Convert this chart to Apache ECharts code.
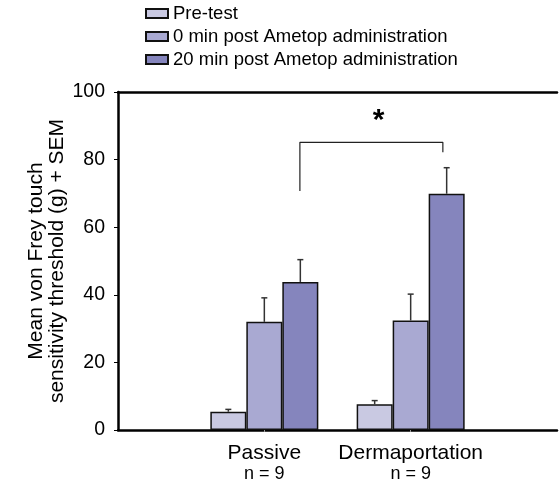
<!DOCTYPE html>
<html>
<head>
<meta charset="utf-8">
<script src="https://cdn.jsdelivr.net/npm/echarts@6/dist/echarts.min.js"></script>
<style>html,body{margin:0;padding:0;background:#fff}#c{width:560px;height:487px}</style>
</head>
<body>
<div id="c"></div>
<script>
// ---- data ----
var categories = ['', 'Passive', 'Dermaportation', ''];
var groupSizes = ['', 'n = 9', 'n = 9', ''];
var seriesNames = ['Pre-test', '0 min post Ametop administration', '20 min post Ametop administration'];
var preTest = [null, 5.4, 7.6, null];
var min0 = [null, 32.0, 32.4, null];
var min20 = [null, 43.8, 69.9, null];
var preTestErr = [null, 6.1, 8.7, null];
var min0Err = [null, 39.1, 40.2, null];
var min20Err = [null, 50.4, 77.6, null];
var yTicks = [0, 20, 40, 60, 80, 100];
// significance bracket (data space: category index, value)
var bracketX = [1.243, 1.243, 2.22, 2.22];
var bracketY = [70.7, 85.1, 85.1, 82.2];
var starPos = [1.78, 91.5];

// ---- styles ----
var FONT = '"Liberation Sans", Arial, sans-serif';
var colors = ['#c9c9e2', '#a9a9d2', '#8585bd'];
var BAR_W = 36;

var means = [preTest, min0, min20];
var errs = [preTestErr, min0Err, min20Err];

var series = [];
means.forEach(function (vals, s) {
  series.push({
    name: seriesNames[s], type: 'bar', xAxisIndex: 0, yAxisIndex: 0,
    data: vals, barWidth: BAR_W, barGap: '0%',
    itemStyle: { color: colors[s], borderColor: '#111', borderWidth: 1.5 },
    emphasis: { disabled: true }, z: 2
  });
});
var errData = [];
means.forEach(function (vals, s) {
  vals.forEach(function (v, i) {
    if (v != null) errData.push([i, v, errs[s][i], s]);
  });
});
series.push({
  type: 'custom', xAxisIndex: 0, yAxisIndex: 0, data: errData, z: 3, silent: true,
  renderItem: function (params, api) {
    var idx = api.value(0), s = api.value(3);
    var off = (s - 1) * BAR_W;
    var p0 = api.coord([idx, api.value(1)]);
    var p1 = api.coord([idx, api.value(2)]);
    var x = p0[0] + off;
    return { type: 'group', children: [
      { type: 'line', shape: { x1: x, y1: p0[1], x2: x, y2: p1[1] }, style: { stroke: '#333', lineWidth: 1.5 } },
      { type: 'line', shape: { x1: x - 3, y1: p1[1], x2: x + 3, y2: p1[1] }, style: { stroke: '#333', lineWidth: 1.5 } }
    ]};
  }
});
series.push({
  type: 'line', xAxisIndex: 1, yAxisIndex: 0, silent: true,
  data: bracketX.map(function (x, i) { return [x, bracketY[i]]; }),
  symbol: 'none', lineStyle: { color: '#222', width: 1.2 },
  markPoint: { symbol: 'circle', symbolSize: 0,
    data: [{ coord: starPos, label: { show: true, formatter: '*', fontSize: 30, fontWeight: 'bold', color: '#000', fontFamily: FONT } }] }
});

var chart = echarts.init(document.getElementById('c'));
chart.setOption({
  animation: false,
  textStyle: { fontFamily: FONT },
  legend: {
    data: seriesNames, orient: 'vertical', left: 140, top: -1,
    itemWidth: 22, itemHeight: 9, itemGap: 4, icon: 'rect',
    textStyle: { fontSize: 18.5, color: '#000', fontFamily: FONT }
  },
  grid: { left: 118, top: 92, bottom: 57, width: 444 },
  xAxis: [{
    type: 'category', data: categories, boundaryGap: false,
    axisLine: { lineStyle: { color: '#000', width: 2.5 } },
    axisTick: { show: true, length: 2, lineStyle: { color: '#999' }, interval: function (i) { return i === 1 || i === 2; } },
    axisLabel: {
      interval: 0, margin: 13,
      formatter: function (v, i) { return v ? '{a|' + v + '}\n{b|' + groupSizes[i] + '}' : ''; },
      rich: { a: { fontSize: 21, color: '#000', lineHeight: 21, fontFamily: FONT }, b: { fontSize: 18, color: '#000', lineHeight: 20, fontFamily: FONT } }
    },
    splitLine: { show: false }
  }, {
    type: 'value', position: 'top', min: 0, max: 3,
    axisLine: { show: true, onZero: false, lineStyle: { color: '#000', width: 2.5 } },
    axisTick: { show: false }, axisLabel: { show: false }, splitLine: { show: false }
  }],
  yAxis: {
    type: 'value', min: yTicks[0], max: yTicks[yTicks.length - 1], interval: 20,
    name: 'Mean von Frey touch\nsensitivity threshold (g) + SEM',
    nameLocation: 'middle', nameGap: 50, nameMoveOverlap: false,
    nameTextStyle: { fontSize: 21, lineHeight: 21, color: '#000', fontFamily: FONT },
    axisLine: { show: true, lineStyle: { color: '#000', width: 2.5 } },
    axisTick: { show: true, length: 4, lineStyle: { color: '#000' } },
    axisLabel: { fontSize: 19.5, color: '#000', margin: 13 },
    splitLine: { show: false }
  },
  series: series
});
</script>
</body>
</html>
